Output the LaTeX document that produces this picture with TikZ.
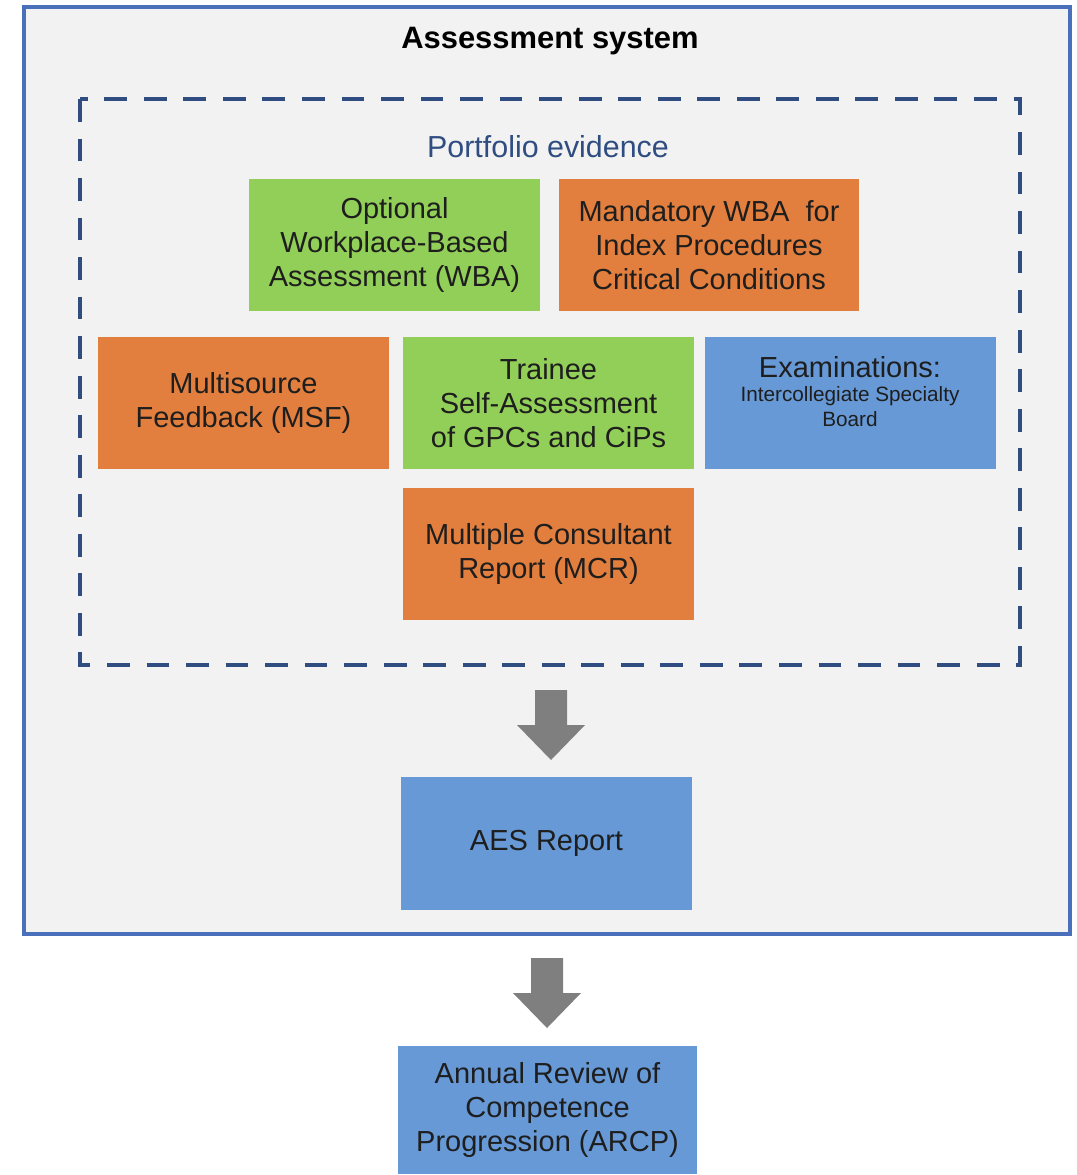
\documentclass[tikz,border=0pt]{standalone}
\usepackage{fontspec}
\setmainfont{Liberation Sans}
\usepackage{tikz}
\usetikzlibrary{calc}
\usetikzlibrary{positioning}
\definecolor{wbagreen}{HTML}{92CF58}
\definecolor{msforange}{HTML}{E27F3E}
\definecolor{examblue}{HTML}{6699D6}
\definecolor{framegrey}{HTML}{F2F2F2}
\definecolor{frameblue}{HTML}{4A70BC}
\definecolor{dashblue}{HTML}{2F4D80}
\definecolor{arrowgrey}{HTML}{7F7F7F}
\definecolor{inktext}{HTML}{1E1E1E}
\tikzset{
  evbox/.style={draw=none, align=center, text=inktext, inner sep=0pt,
    font=\fontsize{16.5}{19.5}\selectfont},
  subtext/.style={draw=none, align=center, text=inktext, inner sep=0pt,
    font=\fontsize{11.8}{14.5}\selectfont},
  heading/.style={align=center, inner sep=0pt},
}
\newcommand{\evbox}[7]{\fill[#6] ( #2 , #3 ) rectangle ( #4 , #5 );
  \node[evbox] (#1) at ($( #2 , #3 )!0.5!( #4 , #5 )$) {#7};}
\newcommand{\blockarrow}[2]{\fill[arrowgrey] ( #1 - 16 , #2 ) -- ( #1 + 16 , #2 ) -- ( #1 + 16 , #2 + 35 )
  -- ( #1 + 34 , #2 + 35 ) -- ( #1 , #2 + 70 ) -- ( #1 - 34 , #2 + 35 ) -- ( #1 - 16 , #2 + 35 ) -- cycle;}

\begin{document}
\begin{tikzpicture}[x=0.02cm, y=-0.02cm]
\useasboundingbox (0,0) rectangle (1076,1175);
% outer frame
\draw[frameblue, line width=2.8pt, fill=framegrey] (24,7) rectangle (1070,934);
\node[heading, font=\bfseries\fontsize{17.6}{20}\selectfont, text=black] (title) at (550,41) {Assessment system};
% portfolio frame
\draw[dashblue, line width=2.3pt, dash pattern=on 13pt off 9.5pt] (80,99) rectangle (1020,665);
\node[heading, font=\fontsize{17.3}{20}\selectfont, text=dashblue] (portfolio) at (548,147) {Portfolio evidence};
% row 1 of boxes
\evbox{wba}{249}{179}{540}{311}{wbagreen}{Optional\\Workplace-Based\\Assessment (WBA)}
\evbox{mandatory}{559}{179}{859}{311}{msforange}{Mandatory WBA~ for\\Index Procedures\\Critical Conditions}
% row 2 of boxes
\evbox{msf}{98}{337}{389}{469}{msforange}{Multisource\\Feedback (MSF)}
\evbox{self}{403}{337}{694}{469}{wbagreen}{Trainee\\Self-Assessment\\of GPCs and CiPs}
\fill[examblue] (705,337) rectangle (996,469);
\node[evbox] (exam) at (850,367) {Examinations:};
\node[subtext, below=4.5pt of exam.south] (board) {Intercollegiate Specialty\\Board};
% row 3 of boxes
\evbox{mcr}{403}{488}{694}{620}{msforange}{Multiple Consultant\\Report (MCR)}
% outputs
\blockarrow{551}{690}
\evbox{aes}{401}{777}{692}{910}{examblue}{AES Report}
\blockarrow{547}{958}
\evbox{arcp}{398}{1046}{697}{1174}{examblue}{Annual Review of\\Competence\\Progression (ARCP)}
\end{tikzpicture}
\end{document}
